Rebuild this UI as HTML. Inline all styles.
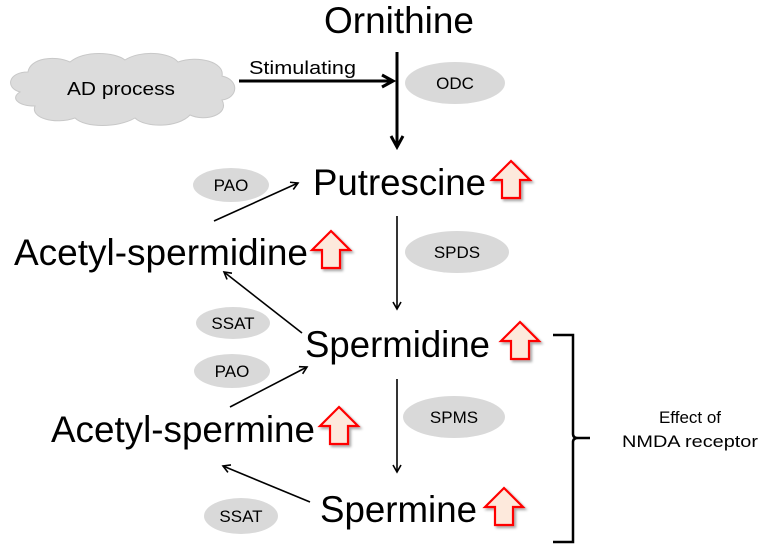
<!DOCTYPE html>
<html><head><meta charset="utf-8"><style>
html,body{margin:0;padding:0;background:#fff;}
svg{display:block;font-family:"Liberation Sans",Arial,sans-serif;}
</style></head><body>
<svg width="763" height="550" viewBox="0 0 763 550" xmlns="http://www.w3.org/2000/svg">
<defs>
<marker id="ah" markerWidth="10" markerHeight="10" refX="8" refY="5" orient="auto" markerUnits="userSpaceOnUse">
<path d="M1,1 L8,5 L1,9" fill="none" stroke="#000" stroke-width="1.6"/></marker>
<marker id="ahb" markerWidth="16" markerHeight="16" refX="13" refY="8" orient="auto" markerUnits="userSpaceOnUse">
<path d="M2,2 L13,8 L2,14" fill="none" stroke="#000" stroke-width="3"/></marker>
<g id="up"><path d="M19,0 L38,19 L28,19 L28,37 L10,37 L10,19 L0,19 Z" fill="#fde9dc" stroke="#f00" stroke-width="2.2" stroke-linejoin="miter"/></g>
<filter id="sh" x="-20%" y="-20%" width="150%" height="150%"><feDropShadow dx="2" dy="2" stdDeviation="1.2" flood-color="#000" flood-opacity="0.35"/></filter>
</defs>

<!-- cloud -->
<g fill="#dcdcdc" stroke="#c8c8c8" stroke-width="1">
<path d="M20,92 C5,88 8,72 28,72 C30,58 55,55 70,62 C85,50 115,52 125,60 C140,50 170,52 178,62 C198,55 225,62 222,76 C240,80 238,98 222,100 C230,115 205,122 190,115 C178,128 145,128 135,118 C118,128 85,128 75,118 C55,125 30,118 35,106 C18,106 10,98 20,92 Z"/>
</g>
<text x="121" y="95" font-size="18" text-anchor="middle" textLength="108" lengthAdjust="spacingAndGlyphs">AD  process</text>

<text x="249" y="74" font-size="18" textLength="107" lengthAdjust="spacingAndGlyphs">Stimulating</text>
<line x1="239" y1="81" x2="393" y2="81" stroke="#000" stroke-width="3" marker-end="url(#ahb)"/>

<text x="324" y="33" font-size="37" textLength="150" lengthAdjust="spacingAndGlyphs">Ornithine</text>
<line x1="397" y1="52" x2="397" y2="147" stroke="#000" stroke-width="3" marker-end="url(#ahb)"/>

<ellipse cx="455" cy="83" rx="50" ry="21" fill="#d9d9d9"/>
<text x="455" y="89" font-size="17" text-anchor="middle">ODC</text>

<text x="313" y="195" font-size="37" textLength="173" lengthAdjust="spacingAndGlyphs">Putrescine</text>
<use href="#up" x="492" y="161" filter="url(#sh)"/>

<ellipse cx="231" cy="185" rx="38" ry="17" fill="#d9d9d9"/>
<text x="231" y="191" font-size="17" text-anchor="middle">PAO</text>
<line x1="214" y1="221" x2="298" y2="183" stroke="#000" stroke-width="1.6" marker-end="url(#ah)"/>

<text x="14" y="265" font-size="37" textLength="294" lengthAdjust="spacingAndGlyphs">Acetyl-spermidine</text>
<use href="#up" x="312" y="231" filter="url(#sh)"/>

<line x1="397" y1="216" x2="397" y2="309" stroke="#000" stroke-width="1.6" marker-end="url(#ah)"/>
<ellipse cx="457" cy="252" rx="52" ry="21" fill="#d9d9d9"/>
<text x="457" y="258" font-size="17" text-anchor="middle">SPDS</text>

<line x1="302" y1="333" x2="224" y2="272" stroke="#000" stroke-width="1.6" marker-end="url(#ah)"/>
<ellipse cx="233" cy="323" rx="37" ry="16" fill="#d9d9d9"/>
<text x="233" y="329" font-size="17" text-anchor="middle">SSAT</text>

<text x="305" y="357" font-size="37" textLength="185" lengthAdjust="spacingAndGlyphs">Spermidine</text>
<use href="#up" x="501" y="322" filter="url(#sh)"/>

<ellipse cx="232" cy="371" rx="38" ry="17" fill="#d9d9d9"/>
<text x="232" y="377" font-size="17" text-anchor="middle">PAO</text>
<line x1="230" y1="407" x2="307" y2="367" stroke="#000" stroke-width="1.6" marker-end="url(#ah)"/>

<line x1="397" y1="379" x2="397" y2="472" stroke="#000" stroke-width="1.6" marker-end="url(#ah)"/>
<ellipse cx="454" cy="417" rx="51" ry="21" fill="#d9d9d9"/>
<text x="454" y="423" font-size="17" text-anchor="middle">SPMS</text>

<text x="51" y="442" font-size="37" textLength="264" lengthAdjust="spacingAndGlyphs">Acetyl-spermine</text>
<use href="#up" x="320" y="407" filter="url(#sh)"/>

<line x1="310" y1="502" x2="223" y2="466" stroke="#000" stroke-width="1.6" marker-end="url(#ah)"/>
<ellipse cx="241" cy="516" rx="37" ry="18" fill="#d9d9d9"/>
<text x="241" y="522" font-size="17" text-anchor="middle">SSAT</text>

<text x="320" y="522" font-size="37" textLength="157" lengthAdjust="spacingAndGlyphs">Spermine</text>
<use href="#up" x="485" y="488" filter="url(#sh)"/>

<path d="M553,335 L573,335 L573,434 Q573,438 578,438 L590,438 M578,438 Q573,438 573,442 L573,542 L553,542" fill="none" stroke="#000" stroke-width="2.5"/>
<text x="690" y="423" font-size="17" text-anchor="middle">Effect of</text>
<text x="690" y="447" font-size="17" text-anchor="middle" textLength="136" lengthAdjust="spacingAndGlyphs">NMDA receptor</text>
</svg>
</body></html>
